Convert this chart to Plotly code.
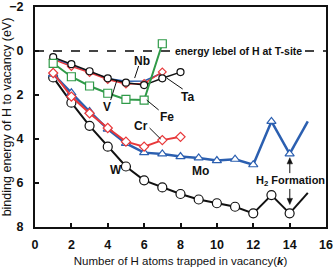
import plotly.graph_objects as go

# ---------------- data ----------------
k_W = [1, 2, 3, 4, 5, 6, 7, 8, 9, 10, 11, 12, 13, 14]
W = [1.2, 2.35, 3.4, 4.35, 5.25, 5.88, 6.2, 6.5, 6.75, 6.92, 7.08, 7.38, 6.55, 7.38]
k_W_tail = [14, 15]
W_tail = [7.38, 6.45]

k_Mo = [1, 2, 3, 4, 5, 6, 7, 8, 9, 10, 11, 12, 13, 14]
Mo = [1.05, 1.9, 2.75, 3.55, 4.2, 4.62, 4.68, 4.8, 4.86, 4.98, 4.92, 5.17, 3.2, 4.68]
k_Mo_tail = [14, 15]
Mo_tail = [4.68, 3.2]

k_Cr = [1, 2, 3, 4, 5, 6, 7, 8]
Cr = [1.0, 2.07, 2.83, 3.5, 4.12, 4.35, 4.05, 3.9]

k_Fe = [1, 2, 3, 4, 5, 6, 7]
Fe = [0.56, 1.17, 1.59, 1.92, 2.2, 2.23, -0.33]

k_Ta = [1, 2, 3, 4, 5, 6, 7, 8]
Ta = [0.28, 0.6, 0.92, 1.24, 1.44, 1.55, 1.24, 0.96]

k_V = [1, 2, 3, 4, 5, 6, 7]
V = [0.38, 0.7, 0.98, 1.3, 1.5, 1.48, 0.95]

k_Nb = [1, 2, 3, 4, 5, 6, 7]
Nb = [0.33, 0.65, 0.95, 1.25, 1.38, 1.36, 1.0]

x_ticks = [0, 2, 4, 6, 8, 10, 12, 14, 16]
y_ticks = [-2, 0, 2, 4, 6, 8]

BLUE = "#2b5fb0"
RED = "#e8383a"
GREEN = "#2f9a48"
BLACK = "#111111"

fig = go.Figure()

def add(x, y, color, symbol, size, width, mode="lines+markers"):
    fig.add_trace(go.Scatter(
        x=x, y=y, mode=mode,
        line=dict(color=color, width=width),
        marker=dict(symbol=symbol, size=size, color="white",
                    line=dict(color=color, width=1.2)),
        showlegend=False, hoverinfo="skip"))

# upper group
add(k_Nb, Nb, BLUE, "circle", 6, 1.5, mode="lines")
add(k_V, V, RED, "diamond", 6, 1.5)
add(k_Ta, Ta, BLACK, "circle", 7, 1.5)
add(k_Fe, Fe, GREEN, "square", 8, 2)
# lower group
add(k_W_tail, W_tail, BLACK, "circle", 9, 2, mode="lines")
add(k_W, W, BLACK, "circle", 9, 2)
add(k_Mo_tail, Mo_tail, BLUE, "triangle-up", 8, 2.5, mode="lines")
add(k_Mo, Mo, BLUE, "triangle-up", 8, 2.5)
add(k_Cr, Cr, RED, "diamond", 7, 2)

fig.add_shape(type="line", xref="paper", yref="y", x0=0, x1=1, y0=0, y1=0,
              line=dict(color="#444444", width=2, dash="dash"), layer="below")

FONT = "Liberation Sans, Arial, sans-serif"

def label(text, x, y, size=12):
    fig.add_annotation(x=x, y=y, xref="x", yref="y", text="<b>%s</b>" % text,
                       showarrow=False, font=dict(family=FONT, size=size, color=BLACK))

def pointer(x0, y0, x1, y1):
    fig.add_shape(type="line", xref="x", yref="y", x0=x0, y0=y0, x1=x1, y1=y1,
                  line=dict(color=BLACK, width=1))

def arrow(x, y0, y1):
    d = 0.28 if y1 > y0 else -0.28
    pointer(x, y0, x, y1 - d * 0.5)
    fig.add_shape(type="path", xref="x", yref="y",
                  path="M %f,%f L %f,%f L %f,%f Z" % (x - 0.15, y1 - d, x, y1, x + 0.15, y1 - d),
                  fillcolor=BLACK, line=dict(color=BLACK, width=0.5))

fig.add_annotation(x=11.18, y=0, xref="x", yref="y",
                   text="<b>energy lebel of H at T-site</b>", showarrow=False,
                   bgcolor="white", font=dict(family=FONT, size=10.5, color=BLACK))

label("Nb", 5.86, 0.45)
pointer(5.7, 0.68, 5.48, 1.23)
label("V", 3.94, 2.55)
pointer(4.16, 2.23, 4.49, 1.36)
label("Ta", 8.4, 2.09)
pointer(8.12, 1.73, 7.24, 1.23)
label("Fe", 7.24, 3.0)
pointer(6.8, 2.68, 6.14, 2.23)
label("Cr", 5.81, 3.41)
pointer(6.3, 3.5, 6.91, 4.0)
label("W", 4.43, 5.41)
label("Mo", 9.11, 5.45)
label("H<sub>2</sub> Formation", 14.07, 5.91, size=11)
arrow(14.01, 5.55, 4.85)
arrow(14.01, 6.27, 6.98)

axis_common = dict(showgrid=False, zeroline=False, showline=True, linecolor=BLACK,
                   linewidth=2, mirror=True, ticks="inside", ticklen=4, tickwidth=1.5,
                   tickcolor=BLACK, automargin=False,
                   tickfont=dict(family=FONT, size=12.5, color=BLACK, weight="bold"))

fig.update_layout(
    width=333, height=268,
    margin=dict(l=35, r=7, t=7, b=41),
    paper_bgcolor="white", plot_bgcolor="white",
    xaxis=dict(range=[0, 16], tickvals=x_ticks, ticklabelstandoff=5,
               title=dict(text="Number of H atoms trapped in vacancy(<b><i>k</i></b>)",
                          font=dict(family=FONT, size=11.5, color=BLACK), standoff=6),
               **axis_common),
    yaxis=dict(range=[8, -2], tickvals=y_ticks, ticklabelstandoff=7,
               title=dict(text="binding energy of H to vacancy (eV)",
                          font=dict(family=FONT, size=12.5, color=BLACK), standoff=2),
               **axis_common),
)

fig.write_html("out.html")
